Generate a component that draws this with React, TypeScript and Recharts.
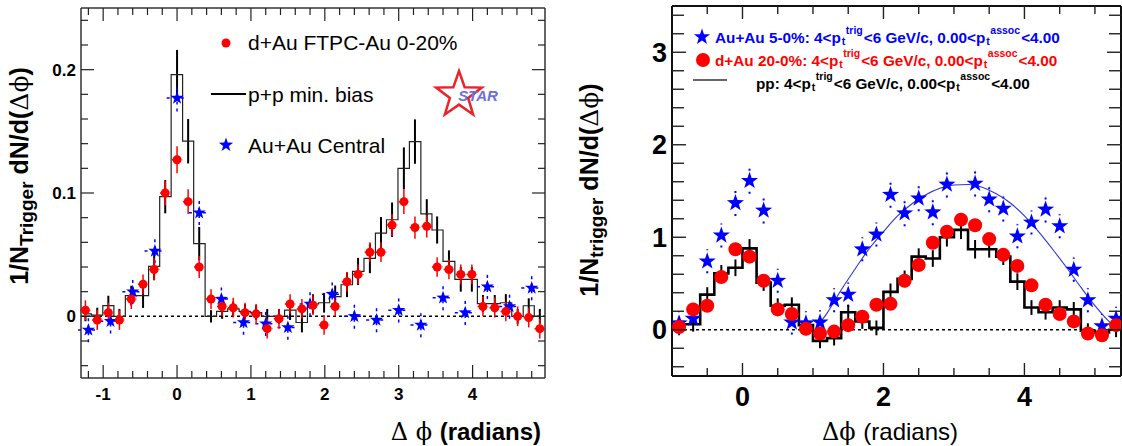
import React from "react";
import { ComposedChart, Line, Scatter, XAxis, YAxis, ReferenceLine, ErrorBar } from "recharts";

const SANS = "'Liberation Sans', Arial, Helvetica, sans-serif";
const SERIF = "'DejaVu Serif', 'Liberation Serif', serif";
const RED = "#ff0000";
const BLUE = "#0000ff";

// ---- left panel: forward d+Au, p+p min. bias, Au+Au central ----
const binPhi = [-1.24, -1.08, -0.93, -0.78, -0.62, -0.46, -0.31, -0.16, 0, 0.15, 0.3, 0.46, 0.61, 0.76, 0.92, 1.07, 1.22, 1.38, 1.53, 1.69, 1.84, 1.99, 2.14, 2.3, 2.45, 2.61, 2.76, 2.91, 3.07, 3.22, 3.38, 3.52, 3.68, 3.84, 3.99, 4.14, 4.3, 4.45, 4.61, 4.76, 4.91];
const dAuFtpcY = [0.005, -0.003, 0.003, -0.003, 0.014, 0.026, 0.038, 0.1, 0.127, 0.093, 0.04, 0.014, 0.008, 0.007, 0.003, 0.002, -0.01, -0.002, 0.01, 0.006, 0.009, -0.007, 0.008, 0.028, 0.034, 0.052, 0.052, 0.074, 0.093, 0.072, 0.073, 0.04, 0.038, 0.034, 0.034, 0.008, 0.007, 0.004, 0.0, -0.001, -0.01];
const dAuFtpcErr = [0.008, 0.008, 0.008, 0.008, 0.008, 0.008, 0.009, 0.01, 0.011, 0.01, 0.009, 0.008, 0.008, 0.008, 0.008, 0.008, 0.008, 0.008, 0.008, 0.008, 0.008, 0.008, 0.008, 0.008, 0.008, 0.008, 0.008, 0.009, 0.01, 0.009, 0.009, 0.008, 0.008, 0.008, 0.008, 0.008, 0.008, 0.008, 0.008, 0.008, 0.008];
const ppMinBiasY = [0.002, 0.001, 0.0087, 0.0, 0.0168, 0.0168, 0.0405, 0.097, 0.196, 0.142, 0.059, 0.0, 0.004, 0.006, 0.004, 0.003, 0.0, 0.0, 0.005, -0.005, 0.01, 0.011, 0.016, 0.0256, 0.0364, 0.047, 0.0675, 0.0783, 0.12, 0.1417, 0.083, 0.07, 0.0445, 0.03, 0.03, 0.0103, 0.0103, 0.011, 0.0, 0.0086, 0.0];
const ppMinBiasErr = [0.006, 0.006, 0.008, 0.006, 0.008, 0.01, 0.011, 0.0135, 0.02, 0.018, 0.0135, 0.005, 0.006, 0.006, 0.006, 0.006, 0.006, 0.006, 0.008, 0.008, 0.008, 0.008, 0.009, 0.01, 0.011, 0.012, 0.013, 0.014, 0.017, 0.018, 0.012, 0.011, 0.009, 0.01, 0.01, 0.007, 0.007, 0.007, 0.006, 0.006, 0.006];
const auAuCentralPhi = [-1.2, -0.9, -0.6, -0.3, 0, 0.3, 0.6, 0.9, 1.2, 1.5, 1.8, 2.1, 2.4, 2.7, 3.0, 3.3, 3.6, 3.9, 4.2, 4.5, 4.8];
const auAuCentralY = [-0.011, -0.004, 0.02, 0.053, 0.177, 0.084, 0.014, -0.005, -0.006, -0.009, 0.01, 0.018, 0.0, -0.003, 0.005, -0.007, 0.015, 0.003, 0.024, 0.008, 0.023];
const auAuCentralErr = [0.01, 0.01, 0.01, 0.01, 0.011, 0.01, 0.01, 0.01, 0.01, 0.01, 0.01, 0.01, 0.01, 0.01, 0.01, 0.01, 0.01, 0.01, 0.01, 0.01, 0.01];
const dAuHalfBin = 0.07;
const auAuHalfBin = 0.14;

// ---- right panel: 4<pt(trig)<6 GeV/c, 0<pt(assoc)<4 GeV/c ----
const dphi = [-0.9, -0.7, -0.5, -0.3, -0.1, 0.1, 0.3, 0.5, 0.7, 0.9, 1.1, 1.3, 1.5, 1.7, 1.9, 2.1, 2.3, 2.5, 2.7, 2.9, 3.1, 3.3, 3.5, 3.7, 3.9, 4.1, 4.3, 4.5, 4.7, 4.9, 5.1, 5.3];
const auAu5Y = [0.07, 0.12, 0.74, 1.02, 1.37, 1.61, 1.29, 0.53, 0.08, 0.07, 0.08, 0.32, 0.38, 0.87, 1.03, 1.46, 1.26, 1.42, 1.27, 1.57, null, 1.58, 1.41, 1.31, 1.01, 1.16, 1.3, 1.12, 0.65, 0.32, 0.04, 0.12];
const auAu5Err = [0.13, 0.13, 0.13, 0.13, 0.14, 0.14, 0.14, 0.13, 0.13, 0.13, 0.13, 0.13, 0.13, 0.13, 0.13, 0.14, 0.14, 0.14, 0.14, 0.14, 0.14, 0.14, 0.14, 0.14, 0.13, 0.13, 0.14, 0.13, 0.13, 0.13, 0.13, 0.13];
const dAu20Y = [0.03, 0.22, 0.26, 0.57, 0.87, 0.79, 0.53, 0.22, 0.17, 0.01, -0.04, -0.02, 0.05, 0.14, 0.27, 0.28, 0.53, 0.7, 0.94, 1.06, 1.19, 1.13, 0.98, 0.81, 0.69, 0.48, 0.27, 0.17, 0.09, -0.04, -0.06, 0.05];
const ppY = [0.06, 0.06, 0.38, 0.61, 0.67, 0.88, 0.51, 0.26, 0.27, 0.05, -0.12, -0.09, 0.19, 0.09, 0.02, 0.41, 0.55, 0.79, 0.77, 1.0, 1.08, 0.87, 0.87, 0.79, 0.52, 0.24, 0.19, 0.24, 0.22, -0.01, -0.03, 0.0];
const ppErr = [0.08, 0.08, 0.08, 0.09, 0.09, 0.1, 0.09, 0.08, 0.08, 0.08, 0.08, 0.08, 0.08, 0.08, 0.08, 0.09, 0.09, 0.09, 0.09, 0.1, 0.1, 0.1, 0.09, 0.09, 0.09, 0.08, 0.08, 0.08, 0.08, 0.08, 0.08, 0.08];
const awayFitPhi = [1.05, 1.2, 1.4, 1.6, 1.8, 2.0, 2.2, 2.4, 2.6, 2.8, 3.0, 3.2, 3.4, 3.6, 3.8, 4.0, 4.2, 4.4, 4.6, 4.8, 5.0, 5.2, 5.35];
const awayFitY = [0.03, 0.18, 0.43, 0.66, 0.88, 1.06, 1.23, 1.36, 1.46, 1.53, 1.565, 1.57, 1.54, 1.47, 1.37, 1.23, 1.06, 0.87, 0.67, 0.46, 0.26, 0.09, 0.0];

// axis tick positions
const xTicksL = [-1.2, -1, -0.8, -0.6, -0.4, -0.2, 0, 0.2, 0.4, 0.6, 0.8, 1, 1.2, 1.4, 1.6, 1.8, 2, 2.2, 2.4, 2.6, 2.8, 3, 3.2, 3.4, 3.6, 3.8, 4, 4.2, 4.4, 4.6, 4.8];
const yTicksL = [-0.04, -0.02, 0, 0.02, 0.04, 0.06, 0.08, 0.1, 0.12, 0.14, 0.16, 0.18, 0.2, 0.22, 0.24];
const xTicksR = [-0.5, 0, 0.5, 1, 1.5, 2, 2.5, 3, 3.5, 4, 4.5, 5];
const yTicksR = [-0.4, -0.2, 0, 0.2, 0.4, 0.6, 0.8, 1, 1.2, 1.4, 1.6, 1.8, 2, 2.2, 2.4, 2.6, 2.8, 3, 3.2, 3.4];

const dAuFtpcRows = binPhi.map((x, i) => ({ x, y: dAuFtpcY[i], e: dAuFtpcErr[i], xe: dAuHalfBin }));
const ppMinBiasRows = binPhi.map((x, i) => ({ x, y: ppMinBiasY[i], e: ppMinBiasErr[i] }));
const auAuCentralRows = auAuCentralPhi.map((x, i) => ({ x, y: auAuCentralY[i], e: auAuCentralErr[i], xe: auAuHalfBin }));
const auAu5Rows = dphi.map((x, i) => ({ x, y: auAu5Y[i], e: auAu5Err[i] })).filter((r) => r.y !== null);
const dAu20Rows = dphi.map((x, i) => ({ x, y: dAu20Y[i] }));
const ppRows = dphi.map((x, i) => ({ x, y: ppY[i], e: ppErr[i] }));
const fitRows = awayFitPhi.map((x, i) => ({ x, y: awayFitY[i] }));

const near = (v: number, step: number) => Math.abs(v / step - Math.round(v / step)) < 1e-6;

function starPath(cx: number, cy: number, R: number) {
  const pts: string[] = [];
  for (let i = 0; i < 10; i++) {
    const r = i % 2 ? R * 0.4 : R;
    const a = ((-90 + i * 36) * Math.PI) / 180;
    pts.push(`${(cx + r * Math.cos(a)).toFixed(2)},${(cy + r * Math.sin(a)).toFixed(2)}`);
  }
  return pts.join(" ");
}

type Side = "bottom" | "top" | "left" | "right";
type TickLabel = { size: number; off: number; fmt: (v: number) => string };

// inward ROOT-style ticks, labels only on the major ones
const frameTick =
  (side: Side, isMajor: (v: number) => boolean, majLen: number, minLen: number, sw: number, label?: TickLabel) =>
  (p: any) => {
    const v = p.payload.value as number;
    const major = isMajor(v);
    const len = major ? majLen : minLen;
    const x = Number(p.x);
    const y = Number(p.y);
    let x2 = x;
    let y2 = y;
    if (side === "bottom") y2 = y - len;
    else if (side === "top") y2 = y + len;
    else if (side === "left") x2 = x + len;
    else x2 = x - len;
    let text = null;
    if (label && major) {
      text =
        side === "bottom" ? (
          <text x={x} y={y + label.off} textAnchor="middle" fontFamily={SANS} fontWeight="bold" fontSize={label.size} fill="#000">
            {label.fmt(v)}
          </text>
        ) : (
          <text x={x - label.off} y={y + label.size * 0.36} textAnchor="end" fontFamily={SANS} fontWeight="bold" fontSize={label.size} fill="#000">
            {label.fmt(v)}
          </text>
        );
    }
    return (
      <g>
        <line x1={x} y1={y} x2={x2} y2={y2} stroke="#222" strokeWidth={sw} />
        {text}
      </g>
    );
  };

function LeftPanel() {
  const xDom: [number, number] = [-1.3, 4.98];
  const yDom: [number, number] = [-0.05, 0.25];
  const frame = { stroke: "#333", strokeWidth: 1.5 };
  const isIntX = (v: number) => near(v, 1);
  const isTenth = (v: number) => near(v, 0.1);
  return (
    <ComposedChart width={560} height={446} margin={{ top: 8, right: 15, bottom: 0, left: 0 }}>
      <XAxis type="number" dataKey="x" domain={xDom} allowDataOverflow ticks={xTicksL} interval={0} height={68}
        tickLine={false} tickSize={0} tickMargin={0} axisLine={frame}
        tick={frameTick("bottom", isIntX, 13, 7, 1.2, { size: 17, off: 22, fmt: (v) => String(v) })} />
      <XAxis xAxisId="top" orientation="top" mirror type="number" dataKey="x" domain={xDom} allowDataOverflow ticks={xTicksL} interval={0}
        tickLine={false} tickSize={0} tickMargin={0} axisLine={frame} tick={frameTick("top", isIntX, 13, 7, 1.2)} />
      <YAxis type="number" dataKey="y" domain={yDom} allowDataOverflow ticks={yTicksL} interval={0} width={81}
        tickLine={false} tickSize={0} tickMargin={0} axisLine={frame}
        tick={frameTick("left", isTenth, 13, 7, 1.2, { size: 17, off: 5, fmt: (v) => String(Math.round(v * 10) / 10) })} />
      <YAxis yAxisId="right" orientation="right" mirror type="number" dataKey="y" domain={yDom} allowDataOverflow ticks={yTicksL} interval={0}
        tickLine={false} tickSize={0} tickMargin={0} axisLine={frame} tick={frameTick("right", isTenth, 13, 7, 1.2)} />
      <ReferenceLine y={0} stroke="#000" strokeWidth={1.5} strokeDasharray="3 3" />
      <Line data={ppMinBiasRows} type="step" dataKey="y" stroke="#222" strokeWidth={1.2} dot={false} activeDot={false} isAnimationActive={false}>
        <ErrorBar dataKey="e" direction="y" width={0} stroke="#000" strokeWidth={2} />
      </Line>
      <Scatter data={auAuCentralRows} dataKey="y" isAnimationActive={false}
        shape={(p: any) => <polygon points={starPath(p.cx, p.cy, 7)} fill={BLUE} />}>
        <ErrorBar dataKey="e" direction="y" width={0} stroke={BLUE} strokeWidth={1.5} strokeDasharray="3 4" />
        <ErrorBar dataKey="xe" direction="x" width={0} stroke={BLUE} strokeWidth={1.5} strokeDasharray="3 4" />
      </Scatter>
      <Scatter data={dAuFtpcRows} dataKey="y" isAnimationActive={false}
        shape={(p: any) => <circle cx={p.cx} cy={p.cy} r={4.5} fill={RED} />}>
        <ErrorBar dataKey="e" direction="y" width={0} stroke={RED} strokeWidth={1.5} />
        <ErrorBar dataKey="xe" direction="x" width={0} stroke={RED} strokeWidth={1.5} strokeDasharray="3 2" />
      </Scatter>
    </ComposedChart>
  );
}

function RightPanel() {
  const xDom: [number, number] = [-1, 5.37];
  const yDom: [number, number] = [-0.5, 3.5];
  const frame = { stroke: "#111", strokeWidth: 2 };
  const isEven = (v: number) => near(v, 2);
  const isInt = (v: number) => near(v, 1);
  return (
    <ComposedChart width={562} height={446} margin={{ top: 6, right: 1, bottom: 0, left: 0 }}>
      <XAxis type="number" dataKey="x" domain={xDom} allowDataOverflow ticks={xTicksR} interval={0} height={70}
        tickLine={false} tickSize={0} tickMargin={0} axisLine={frame}
        tick={frameTick("bottom", isEven, 13, 8, 1.4, { size: 27, off: 30, fmt: (v) => String(v) })} />
      <XAxis xAxisId="top" orientation="top" mirror type="number" dataKey="x" domain={xDom} allowDataOverflow ticks={xTicksR} interval={0}
        tickLine={false} tickSize={0} tickMargin={0} axisLine={frame} tick={frameTick("top", isEven, 13, 8, 1.4)} />
      <YAxis type="number" dataKey="y" domain={yDom} allowDataOverflow ticks={yTicksR} interval={0} width={112}
        tickLine={false} tickSize={0} tickMargin={0} axisLine={frame}
        tick={frameTick("left", isInt, 14, 12, 1.4, { size: 27, off: 5, fmt: (v) => String(v) })} />
      <YAxis yAxisId="right" orientation="right" mirror type="number" dataKey="y" domain={yDom} allowDataOverflow ticks={yTicksR} interval={0}
        tickLine={false} tickSize={0} tickMargin={0} axisLine={frame} tick={frameTick("right", isInt, 14, 12, 1.4)} />
      <ReferenceLine y={0} stroke="#000" strokeWidth={1.5} strokeDasharray="3 3" />
      <Scatter data={auAu5Rows} dataKey="y" isAnimationActive={false}
        shape={(p: any) => <polygon points={starPath(p.cx, p.cy, 9)} fill={BLUE} />}>
        <ErrorBar dataKey="e" direction="y" width={0} stroke={BLUE} strokeWidth={2} strokeDasharray="2 21" />
      </Scatter>
      <Scatter data={dAu20Rows} dataKey="y" isAnimationActive={false}
        shape={(p: any) => <circle cx={p.cx} cy={p.cy} r={7} fill={RED} />} />
      <Line data={ppRows} type="step" dataKey="y" stroke="#000" strokeWidth={2.6} dot={false} activeDot={false} isAnimationActive={false}>
        <ErrorBar dataKey="e" direction="y" width={0} stroke="#000" strokeWidth={2} />
      </Line>
      <Line data={fitRows} type="monotone" dataKey="y" stroke="#2b36d8" strokeWidth={1.1} dot={false} activeDot={false} isAnimationActive={false} />
    </ComposedChart>
  );
}

// p_t with sub- and superscript, as in TLatex p_{t}^{trig}
function PtText({ x, y, color, lead }: { x: number; y: number; color: string; lead: string }) {
  return (
    <text x={x} y={y} fontFamily={SANS} fontWeight="bold" fontSize={15.3} fill={color}>
      {lead + "4<p"}
      <tspan fontSize={10.5} dx={1} dy={2}>t</tspan>
      <tspan fontSize={10.5} dx={0.5} dy={-11}>trig</tspan>
      <tspan dx={1} dy={9}>{"<6 GeV/c, 0.00<p"}</tspan>
      <tspan fontSize={10.5} dx={1} dy={2}>t</tspan>
      <tspan fontSize={10.5} dx={0.5} dy={-11}>assoc</tspan>
      <tspan dx={1} dy={9}>{"<4.00"}</tspan>
    </text>
  );
}

function Overlay() {
  return (
    <svg width={1122} height={446} style={{ position: "absolute", left: 0, top: 0, pointerEvents: "none" }}>
      {/* left legend */}
      <circle cx={226} cy={43} r={4.5} fill={RED} />
      <text x={248} y={50} fontFamily={SANS} fontSize={21} fill="#000">d+Au FTPC-Au 0-20%</text>
      <line x1={211} y1={94} x2={246} y2={94} stroke="#000" strokeWidth={2} />
      <text x={248} y={102} fontFamily={SANS} fontSize={21} fill="#000">p+p min. bias</text>
      <polygon points={starPath(226, 145, 7.5)} fill={BLUE} />
      <text x={248} y={153} fontFamily={SANS} fontSize={21} fill="#000">Au+Au Central</text>

      {/* STAR logo */}
      <polygon points={starPath(459, 95, 24)} fill="none" stroke="#e8262a" strokeWidth={2.5} strokeLinejoin="miter" />
      <text x={478} y={101} textAnchor="middle" fontFamily={SANS} fontWeight="bold" fontStyle="italic" fontSize={15} fill="#6b6fe0">STAR</text>

      {/* left axis titles */}
      <text transform="translate(28,176) rotate(-90)" textAnchor="middle" fontFamily={SANS} fontWeight="bold" fontSize={25} fill="#000">
        1/N<tspan fontSize={19} dy={5}>Trigger</tspan>
        <tspan dy={-5}> dN/d(</tspan>
        <tspan fontFamily={SERIF} fontWeight="normal">Δϕ</tspan>)
      </text>
      <text x={541} y={440} textAnchor="end" fontSize={24} fill="#000">
        <tspan fontFamily={SERIF}>Δ ϕ </tspan>
        <tspan fontFamily={SANS} fontWeight="bold">(radians)</tspan>
      </text>

      {/* right legend */}
      <polygon points={starPath(702, 37, 8.5)} fill={BLUE} />
      <PtText x={715} y={43} color={BLUE} lead="Au+Au 5-0%: " />
      <circle cx={703} cy={60} r={7} fill={RED} />
      <PtText x={715} y={66} color={RED} lead="d+Au 20-0%: " />
      <line x1={693} y1={80} x2={727} y2={80} stroke="#333" strokeWidth={1.5} />
      <PtText x={756} y={89} color="#000" lead="pp: " />

      {/* right axis titles */}
      <text transform="translate(598,190) rotate(-90)" textAnchor="middle" fontFamily={SANS} fontWeight="bold" fontSize={25} fill="#000">
        1/N<tspan fontSize={19} dy={5}>trigger</tspan>
        <tspan dy={-5}> dN/d(</tspan>
        <tspan fontFamily={SERIF} fontWeight="normal">Δϕ</tspan>)
      </text>
      <text x={890} y={440} textAnchor="middle" fontSize={24} fill="#000">
        <tspan fontFamily={SERIF}>Δϕ </tspan>
        <tspan fontFamily={SANS}>(radians)</tspan>
      </text>
    </svg>
  );
}

export default function App() {
  return (
    <div style={{ position: "absolute", left: 0, top: 0, width: 1122, height: 446, background: "#fff", overflow: "hidden" }}>
      <div style={{ position: "absolute", left: 0, top: 0 }}>
        <LeftPanel />
      </div>
      <div style={{ position: "absolute", left: 560, top: 0 }}>
        <RightPanel />
      </div>
      <Overlay />
    </div>
  );
}
